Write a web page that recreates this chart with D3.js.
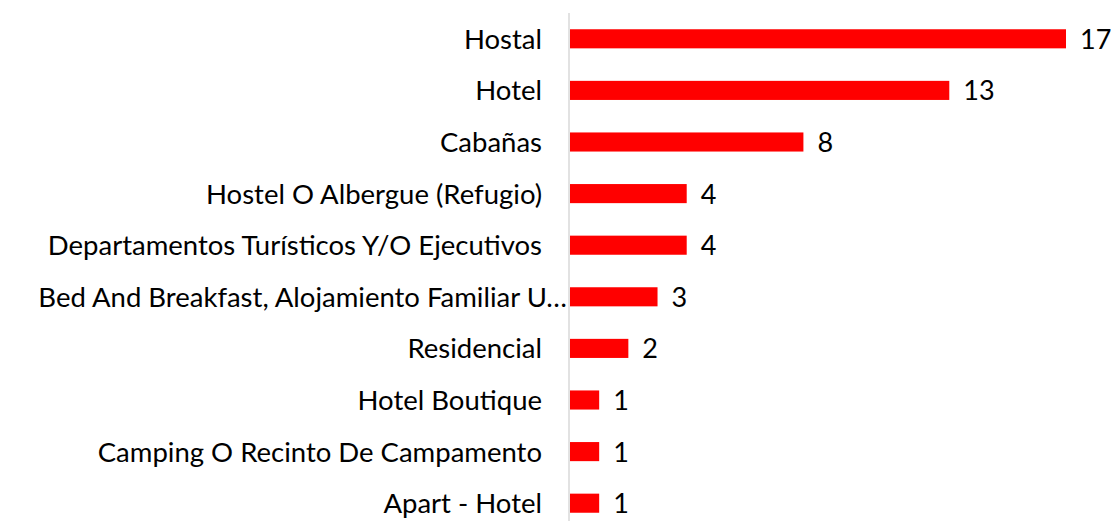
<!DOCTYPE html>
<html>
<head>
<meta charset="utf-8">
<script src="https://cdn.jsdelivr.net/npm/d3@7"></script>
<style>
  html, body { margin: 0; padding: 0; background: #fff; }
  svg { display: block; }
  text { font-family: "Lato", "Open Sans", sans-serif; fill: #000; }
</style>
</head>
<body>
<div id="chart"></div>
<script>
// Data (labels as shown, long one cut by the chart)
const categories = [
  "Hostal",
  "Hotel",
  "Cabañas",
  "Hostel O Albergue (Refugio)",
  "Departamentos Turísticos Y/O Ejecutivos",
  "Bed And Breakfast, Alojamiento Familiar U…",
  "Residencial",
  "Hotel Boutique",
  "Camping O Recinto De Campamento",
  "Apart - Hotel",
];
const values = [17, 13, 8, 4, 4, 3, 2, 1, 1, 1];

const width = 1117;
const height = 521;
const axisX = 570;
const labelRight = 542;

const svg = d3
  .select("#chart")
  .append("svg")
  .attr("width", width)
  .attr("height", height);

const x = d3.scaleLinear().domain([0, 17]).range([axisX, 1066]);
const y = d3
  .scaleBand()
  .domain(categories)
  .range([13, 529])
  .paddingInner(0.63)
  .paddingOuter(0.315);

// Bars
svg
  .selectAll(".bar")
  .data(categories)
  .enter()
  .append("rect")
  .attr("class", "bar")
  .attr("x", x(0))
  .attr("y", (d) => y(d))
  .attr("width", (d, i) => x(values[i]) - x(0))
  .attr("height", y.bandwidth())
  .style("fill", "#ff0000");

// Vertical axis line
svg
  .append("line")
  .attr("x1", axisX - 1)
  .attr("x2", axisX - 1)
  .attr("y1", 13)
  .attr("y2", height)
  .style("stroke", "#d9d9d9")
  .style("stroke-width", 1.5);

// Category labels; the cut one runs right up to the axis
svg
  .selectAll(".cat")
  .data(categories)
  .enter()
  .append("text")
  .attr("class", "cat")
  .attr("x", (d) => (d.endsWith("…") ? axisX - 3 : labelRight))
  .attr("y", (d) => y(d) + y.bandwidth() / 2)
  .attr("dy", "0.36em")
  .attr("text-anchor", "end")
  .style("font-size", "27.5px")
  .text((d) => d);

// Value labels
svg
  .selectAll(".val")
  .data(categories)
  .enter()
  .append("text")
  .attr("class", "val")
  .attr("x", (d, i) => x(values[i]) + 14)
  .attr("y", (d) => y(d) + y.bandwidth() / 2)
  .attr("dy", "0.37em")
  .style("font-size", "27px")
  .text((d, i) => values[i]);
</script>
</body>
</html>
